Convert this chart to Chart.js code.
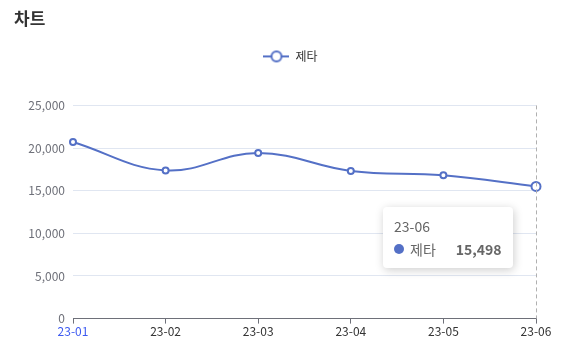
<!DOCTYPE html>
<html>
<head>
<meta charset="utf-8">
<script src="https://cdn.jsdelivr.net/npm/chart.js@4.4.1/dist/chart.umd.min.js"></script>
<style>
  html, body { margin: 0; padding: 0; background: #fff; }
  #wrap { position: relative; width: 577px; height: 355px; }
  #tip {
    position: absolute; display: none; box-sizing: border-box;
    background: #fff; border-radius: 4px;
    box-shadow: 1px 2px 10px rgba(0,0,0,0.2);
    padding: 9px 11px 9px 11px;
    font-family: "Noto Sans CJK KR", "Noto Sans", sans-serif; color: #666;
    pointer-events: none;
  }
  #tip .t { font-size: 14px; line-height: 20px; }
  #tip .r { display: flex; align-items: center; font-size: 14px; line-height: 20px; margin-top: 3px; }
  #tip .dot { width: 10px; height: 10px; border-radius: 50%; margin-right: 6px; }
  #tip .v { font-weight: bold; margin-left: 20px; flex: 1; text-align: right; }
</style>
</head>
<body>
<div id="wrap">
  <canvas id="c" width="577" height="355"></canvas>
  <div id="tip"></div>
</div>
<script>
const categories = ['23-01', '23-02', '23-03', '23-04', '23-05', '23-06'];
const seriesName = '제타';
const seriesValues = [20700, 17380, 19430, 17320, 16800, 15498];
const yTicks = [0, 5000, 10000, 15000, 20000, 25000];
const titleText = '차트';
const activeIndex = 5;

const COLOR = '#5470c6';
const FONT = '"Noto Sans CJK KR", "Noto Sans", sans-serif';

// legend icon: line with empty circle
const icon = document.createElement('canvas');
icon.width = 26; icon.height = 14;
(function () {
  const g = icon.getContext('2d');
  g.strokeStyle = COLOR; g.lineWidth = 2;
  g.beginPath(); g.moveTo(0, 7); g.lineTo(26, 7); g.stroke();
  g.beginPath(); g.arc(13, 7, 5, 0, Math.PI * 2);
  g.fillStyle = '#fff'; g.fill(); g.stroke();
})();

const legendSpace = {
  id: 'legendSpace',
  beforeInit(chart) {
    const orig = chart.legend.fit;
    chart.legend.fit = function () { orig.call(this); this.height += 33; };
  },
  afterLayout(chart) {
    const lg = chart.legend;
    lg.left = 4; lg.right = chart.width; lg.width = chart.width - 4;
  }
};

const axisPointer = {
  id: 'axisPointer',
  afterDatasetsDraw(chart) {
    const x = chart.scales.x.getPixelForValue(activeIndex);
    const a = chart.chartArea;
    const ctx = chart.ctx;
    ctx.save();
    ctx.strokeStyle = '#b0b0b0';
    ctx.lineWidth = 1;
    ctx.setLineDash([4, 3]);
    ctx.beginPath();
    ctx.moveTo(Math.round(x) + 0.5, a.top);
    ctx.lineTo(Math.round(x) + 0.5, a.bottom);
    ctx.stroke();
    ctx.restore();
  }
};

function externalTip(context) {
  const tt = context.tooltip;
  const el = document.getElementById('tip');
  if (tt.opacity === 0 || !tt.dataPoints || !tt.dataPoints.length) { el.style.display = 'none'; return; }
  const dp = tt.dataPoints[0];
  el.innerHTML =
    '<div class="t">' + tt.title[0] + '</div>' +
    '<div class="r"><span class="dot" style="background:' + COLOR + '"></span>' +
    '<span>' + dp.dataset.label + '</span>' +
    '<span class="v">' + dp.formattedValue + '</span></div>';
  el.style.display = 'block';
  el.style.left = (tt.caretX - 153) + 'px';
  el.style.top = (tt.caretY + 21) + 'px';
}

const chart = new Chart(document.getElementById('c'), {
  type: 'line',
  data: {
    labels: categories,
    datasets: [{
      label: seriesName,
      data: seriesValues,
      borderColor: COLOR,
      backgroundColor: '#fff',
      borderWidth: 2,
      tension: 0.4,
      pointRadius: 3,
      pointBorderWidth: 2,
      pointBackgroundColor: '#fff',
      pointBorderColor: COLOR,
      pointHoverRadius: 4.5,
      pointHoverBorderWidth: 2,
      pointHoverBackgroundColor: '#fff',
      pointHoverBorderColor: COLOR
    }]
  },
  options: {
    responsive: false,
    animation: false,
    events: [],
    locale: 'en-US',
    layout: { padding: { left: 14, right: 41, top: 0, bottom: 15 } },
    plugins: {
      title: {
        display: true, text: titleText, align: 'start', color: '#333',
        font: { family: FONT, size: 17, weight: 'bold' },
        padding: { top: 8, bottom: 12 }
      },
      legend: {
        display: true, align: 'center',
        labels: {
          usePointStyle: true, pointStyle: icon, pointStyleWidth: 26, boxHeight: 14,
          color: '#333', font: { family: FONT, size: 12 }
        }
      },
      tooltip: { enabled: false, external: externalTip, mode: 'index', intersect: false }
    },
    scales: {
      x: {
        offset: false,
        grid: { drawOnChartArea: false, drawTicks: true, tickLength: 5, color: '#6E7079' },
        border: { color: '#6E7079' },
        ticks: {
          padding: 1, maxRotation: 0, autoSkip: false,
          color: (c) => c.index === 0 ? '#3d5af1' : '#333',
          font: { family: FONT, size: 12 }
        }
      },
      y: {
        min: 0, max: 25000,
        afterFit(s) { s.width = 59; },
        afterBuildTicks(s) { s.ticks = yTicks.map(v => ({ value: v })); },
        grid: { color: '#E0E6F1', drawTicks: false },
        border: { display: false },
        ticks: { padding: 8, color: '#6E7079', font: { family: FONT, size: 12 } }
      }
    }
  },
  plugins: [legendSpace, axisPointer]
});

const pt = chart.getDatasetMeta(0).data[activeIndex];
chart.setActiveElements([{ datasetIndex: 0, index: activeIndex }]);
chart.tooltip.setActiveElements([{ datasetIndex: 0, index: activeIndex }], { x: pt.x, y: pt.y });
chart.update();
</script>
</body>
</html>
